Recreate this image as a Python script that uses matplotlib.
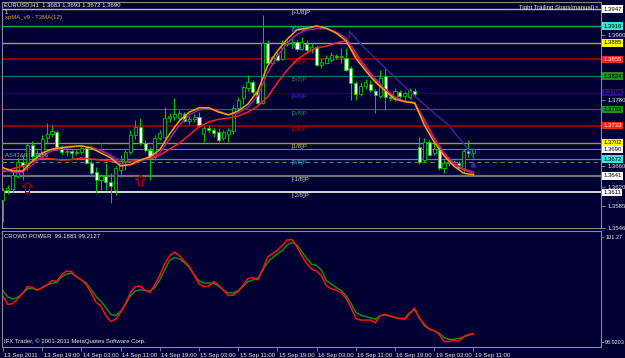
import numpy as np
import matplotlib
matplotlib.use("Agg")
from matplotlib import pyplot as plt
from matplotlib.path import Path
import matplotlib.transforms as mtransforms

plt.rcParams["font.family"] = ["Liberation Sans", "DejaVu Sans"]

# EURUSD H1 bars, 13 Sep 2011 11:00 .. 19 Sep 2011 11:00
opens = [1.3597, 1.3615, 1.3617, 1.3641, 1.3667, 1.3661, 1.3698, 1.3678, 1.3683, 1.3711,
         1.3718, 1.3722, 1.3694, 1.3685, 1.3687, 1.3683, 1.3685, 1.3692, 1.3665, 1.3648,
         1.3634, 1.3641, 1.3630, 1.3615, 1.3652, 1.3667, 1.3685, 1.3716, 1.3731, 1.3701,
         1.3689, 1.3676, 1.3711, 1.3712, 1.3747, 1.3749, 1.3747, 1.3755, 1.3742, 1.3745,
         1.3749, 1.3718, 1.3729, 1.3725, 1.3722, 1.3711, 1.3718, 1.3723, 1.3766, 1.3784,
         1.3802, 1.3813, 1.3795, 1.3775, 1.3885, 1.3848, 1.3863, 1.3856, 1.3883, 1.3885,
         1.3887, 1.3874, 1.3883, 1.3872, 1.3878, 1.3845, 1.3848, 1.3854, 1.3861, 1.3859,
         1.3857, 1.3839, 1.3812, 1.3791, 1.3806, 1.3810, 1.3797, 1.3788, 1.3824, 1.3786,
         1.3782, 1.3795, 1.3788, 1.3786, 1.3797, 1.3694, 1.3670, 1.3703, 1.3683, 1.3689,
         1.3656, 1.3665, 1.3667, 1.3665, 1.3656, 1.3687, 1.3683]
highs = [1.3619, 1.3624, 1.3648, 1.3674, 1.3679, 1.3703, 1.3705, 1.3689, 1.3716, 1.3738,
         1.3734, 1.3725, 1.3698, 1.3692, 1.3690, 1.3689, 1.3696, 1.3696, 1.3670, 1.3657,
         1.3645, 1.3665, 1.3646, 1.3659, 1.3679, 1.3689, 1.3725, 1.3744, 1.3747, 1.3707,
         1.3694, 1.3716, 1.3725, 1.3767, 1.3756, 1.3784, 1.3762, 1.3758, 1.3751, 1.3755,
         1.3758, 1.3733, 1.3733, 1.3729, 1.3729, 1.3725, 1.3729, 1.3771, 1.3786, 1.3808,
         1.3826, 1.3817, 1.3800, 1.3936, 1.3890, 1.3861, 1.3868, 1.3890, 1.3890, 1.3894,
         1.3890, 1.3896, 1.3890, 1.3885, 1.3881, 1.3857, 1.3863, 1.3868, 1.3865, 1.3876,
         1.3876, 1.3843, 1.3815, 1.3813, 1.3819, 1.3817, 1.3800, 1.3835, 1.3841, 1.3793,
         1.3802, 1.3799, 1.3797, 1.3802, 1.3802, 1.3712, 1.3711, 1.3707, 1.3701, 1.3692,
         1.3670, 1.3670, 1.3670, 1.3668, 1.3690, 1.3707, 1.3693]
lows = [1.3556, 1.3608, 1.3611, 1.3637, 1.3634, 1.3652, 1.3670, 1.3670, 1.3679, 1.3701,
        1.3712, 1.3690, 1.3679, 1.3678, 1.3674, 1.3679, 1.3681, 1.3663, 1.3645, 1.3610,
        1.3615, 1.3615, 1.3591, 1.3606, 1.3639, 1.3652, 1.3681, 1.3709, 1.3698, 1.3685,
        1.3634, 1.3670, 1.3707, 1.3709, 1.3740, 1.3744, 1.3744, 1.3740, 1.3736, 1.3740,
        1.3731, 1.3703, 1.3720, 1.3712, 1.3703, 1.3707, 1.3703, 1.3718, 1.3762, 1.3773,
        1.3797, 1.3791, 1.3771, 1.3773, 1.3846, 1.3845, 1.3852, 1.3854, 1.3879, 1.3878,
        1.3870, 1.3872, 1.3868, 1.3867, 1.3843, 1.3839, 1.3846, 1.3850, 1.3856, 1.3848,
        1.3834, 1.3780, 1.3780, 1.3788, 1.3800, 1.3795, 1.3756, 1.3784, 1.3762, 1.3778,
        1.3778, 1.3782, 1.3778, 1.3782, 1.3788, 1.3663, 1.3667, 1.3678, 1.3679, 1.3652,
        1.3646, 1.3659, 1.3661, 1.3654, 1.3648, 1.3676, 1.3672]
closes = [1.3615, 1.3619, 1.3643, 1.3667, 1.3659, 1.3698, 1.3678, 1.3683, 1.3709, 1.3718,
          1.3723, 1.3694, 1.3685, 1.3687, 1.3683, 1.3685, 1.3692, 1.3665, 1.3646, 1.3634,
          1.3641, 1.3630, 1.3623, 1.3656, 1.3670, 1.3685, 1.3716, 1.3731, 1.3701, 1.3689,
          1.3674, 1.3711, 1.3720, 1.3747, 1.3751, 1.3755, 1.3756, 1.3742, 1.3745, 1.3749,
          1.3734, 1.3729, 1.3725, 1.3720, 1.3707, 1.3722, 1.3725, 1.3766, 1.3780, 1.3804,
          1.3813, 1.3795, 1.3775, 1.3885, 1.3848, 1.3859, 1.3854, 1.3883, 1.3885, 1.3887,
          1.3874, 1.3887, 1.3872, 1.3878, 1.3845, 1.3850, 1.3857, 1.3863, 1.3859, 1.3861,
          1.3835, 1.3812, 1.3791, 1.3806, 1.3813, 1.3799, 1.3789, 1.3821, 1.3786, 1.3784,
          1.3797, 1.3788, 1.3793, 1.3799, 1.3791, 1.3667, 1.3703, 1.3679, 1.3690, 1.3656,
          1.3665, 1.3667, 1.3665, 1.3656, 1.3687, 1.3683, 1.3690]

# moving averages, read every second bar
ma_bars = list(range(0, 97, 2))
ma_orange = [1.3656, 1.3650, 1.3650, 1.3668, 1.3683, 1.3690, 1.3693, 1.3695, 1.3696, 1.3692,
             1.3683, 1.3674, 1.3659, 1.3662, 1.3670, 1.3676, 1.3689, 1.3718, 1.3742, 1.3758,
             1.3766, 1.3766, 1.3758, 1.3753, 1.3760, 1.3773, 1.3797, 1.3843, 1.3870, 1.3892,
             1.3909, 1.3912, 1.3916, 1.3912, 1.3903, 1.3889, 1.3857, 1.3834, 1.3813, 1.3797,
             1.3782, 1.3777, 1.3775, 1.3734, 1.3703, 1.3678, 1.3659, 1.3646, 1.3643]
ma_purple = [1.3652, 1.3648, 1.3648, 1.3661, 1.3678, 1.3687, 1.3690, 1.3694, 1.3696, 1.3694,
             1.3687, 1.3678, 1.3663, 1.3661, 1.3668, 1.3674, 1.3683, 1.3709, 1.3734, 1.3753,
             1.3762, 1.3766, 1.3760, 1.3753, 1.3756, 1.3767, 1.3788, 1.3830, 1.3861, 1.3885,
             1.3901, 1.3909, 1.3911, 1.3911, 1.3905, 1.3894, 1.3867, 1.3841, 1.3819, 1.3800,
             1.3786, 1.3778, 1.3775, 1.3744, 1.3711, 1.3683, 1.3665, 1.3654, 1.3648]
ma_red = [1.3648, 1.3654, 1.3659, 1.3667, 1.3674, 1.3672, 1.3670, 1.3671, 1.3674, 1.3672,
          1.3670, 1.3668, 1.3667, 1.3668, 1.3670, 1.3674, 1.3679, 1.3690, 1.3701, 1.3716,
          1.3731, 1.3740, 1.3745, 1.3747, 1.3751, 1.3758, 1.3769, 1.3786, 1.3812, 1.3835,
          1.3854, 1.3867, 1.3876, 1.3879, 1.3885, 1.3889, 1.3863, 1.3839, 1.3817, 1.3799,
          1.3784, 1.3778, 1.3775, 1.3742, 1.3709, 1.3681, 1.3663, 1.3652, 1.3646]

# tight trailing stop lines
trail_bars = [71, 74, 78, 81, 84, 88, 91, 93, 95, 96]
trail_vals = [1.3903, 1.3874, 1.3839, 1.3813, 1.3788, 1.3756, 1.3734, 1.3711, 1.3689, 1.3674]
trail2_bars = [18, 21, 24]
trail2_vals = [1.3692, 1.3684, 1.3670]
arrow_bars = [5, 28]
arrow_vals = [1.3621, 1.3634]

# murrey math levels
mm_levels = [1.3947, 1.3916, 1.3885, 1.3855, 1.3824, 1.3794, 1.3763, 1.3733, 1.3702, 1.3672, 1.3641, 1.3611]
mm_names = ["[+1/8]P", "[8/8]P", "[7/8]P", "[6/8]P", "[5/8]P", "[4/8]P", "[3/8]P",
            "[2/8]P", "[1/8]P", "[0/8]P", "[-1/8]P", "[-2/8]P"]
mm_line_c = ["#B8B8B8", "#00B060", "#A8A840", "#900000", "#007860", "#200070", "#007060",
             "#900000", "#A0A000", "#00A8C8", "#707070", "#D8D8D8"]
mm_text_c = ["#D0D0D0", "#30A0A0", "#B8B860", "#C00000", "#208060", "#4030C0", "#308070",
             "#C00000", "#C0C040", "#20A0C0", "#C8C8C8", "#C8C8C8"]
mm_box_c = ["#FFFFFF", "#40E0D0", "#FFFF00", "#FF2020", "#228B22", "#2A1080", "#228B22",
            "#FF2020", "#FFFF00", "#40E0E0", "#FFFFFF", "#FFFFFF"]
mm_lw = [1.0, 1.0, 1.0, 1.4, 0.9, 0.9, 0.9, 1.4, 1.0, 0.9, 1.6, 1.4]
bid = 1.3690
stop_line = 1.3667

# scale labels; the hidden ones sit under the level boxes
price_ticks = [1.3900, 1.3780, 1.3660, 1.3620, 1.3585, 1.3546]
hidden_ticks = [1.3860, 1.3820, 1.3740, 1.3700]

# crowd power oscillator
cp_red = [99.94, 99.76, 99.78, 99.88, 100.01, 100.16, 100.14, 100.08, 100.13, 100.20,
          100.29, 100.28, 100.43, 100.51, 100.49, 100.38, 100.31, 100.20, 100.02, 99.81,
          99.72, 99.51, 99.38, 99.43, 99.58, 99.78, 100.02, 100.16, 100.17, 100.08,
          100.03, 100.20, 100.41, 100.67, 100.85, 100.93, 100.85, 100.73, 100.61, 100.42,
          100.22, 100.16, 100.17, 100.27, 100.19, 100.08, 99.96, 99.97, 100.06, 100.19,
          100.34, 100.36, 100.31, 100.55, 100.82, 100.90, 100.97, 101.08, 101.20, 101.21,
          101.05, 100.85, 100.67, 100.55, 100.51, 100.40, 100.18, 100.11, 100.08, 100.02,
          99.90, 99.70, 99.45, 99.41, 99.41, 99.41, 99.35, 99.51, 99.54, 99.50,
          99.47, 99.44, 99.43, 99.55, 99.68, 99.44, 99.32, 99.20, 99.17, 99.09,
          98.93, 98.93, 98.96, 98.94, 99.04, 99.09, 99.11]
cp_green = [100.06, 99.93, 99.88, 99.92, 100.00, 100.11, 100.12, 100.08, 100.14, 100.20,
            100.23, 100.26, 100.38, 100.44, 100.46, 100.38, 100.31, 100.24, 100.09, 99.94,
            99.83, 99.69, 99.54, 99.51, 99.61, 99.76, 99.95, 100.06, 100.09, 100.07,
            100.06, 100.14, 100.31, 100.53, 100.75, 100.81, 100.78, 100.70, 100.59, 100.43,
            100.29, 100.24, 100.24, 100.23, 100.17, 100.08, 100.02, 100.02, 100.07, 100.16,
            100.27, 100.31, 100.35, 100.52, 100.70, 100.81, 100.89, 100.97, 101.09, 101.15,
            101.09, 100.94, 100.79, 100.66, 100.63, 100.53, 100.29, 100.22, 100.14, 100.08,
            99.95, 99.79, 99.58, 99.52, 99.49, 99.46, 99.43, 99.51, 99.52, 99.50,
            99.47, 99.45, 99.45, 99.58, 99.64, 99.47, 99.28, 99.22, 99.17, 99.12,
            99.02, 98.98, 98.98, 99.00, 99.03, 99.07, 99.10]

time_bars = [0, 8, 16, 24, 32, 40, 48, 56, 64, 72, 80, 88, 96]
time_labels = ["13 Sep 2011", "13 Sep 19:00", "14 Sep 03:00", "14 Sep 11:00", "14 Sep 19:00",
               "15 Sep 03:00", "15 Sep 11:00", "15 Sep 19:00", "16 Sep 03:00", "16 Sep 11:00",
               "16 Sep 19:00", "19 Sep 03:00", "19 Sep 11:00"]

bg = "#000032"
frame = "#8C8C8C"
candle_c = "#00C800"
fs = 4.3
W, H = 625, 358

fig = plt.figure(figsize=(W / 100, H / 100), dpi=100, facecolor=bg)
ax = fig.add_axes([2 / W, 1 - 228 / H, 599 / W, 226 / H], facecolor=bg)
ax2 = fig.add_axes([2 / W, 1 - 347 / H, 599 / W, 116 / H], facecolor=bg)

for a in (ax, ax2):
    a.set_xlim(-0.2, 122.04)
    for s in a.spines.values():
        s.set_color(frame)
        s.set_linewidth(0.8)
ax.set_ylim(1.35454, 1.39601)
ax2.set_ylim(98.808, 101.404)

# murrey lines + labels
for lvl, name, lc, tc, lw in zip(mm_levels, mm_names, mm_line_c, mm_text_c, mm_lw):
    ax.axhline(lvl, color=lc, lw=lw, zorder=1)
    ax.text(59, lvl - 0.00022, name, color=tc, fontsize=fs, va="top", ha="left", zorder=2)
ax.axhline(bid, color="#7C7C7C", lw=0.8, zorder=1)
ax.axhline(stop_line, color="#5A7A5A", lw=0.8, ls=(0, (4, 3)), zorder=1)

# candles
x = np.arange(len(opens))
o = np.array(opens)
c = np.array(closes)
ax.vlines(x, lows, highs, color=candle_c, lw=0.75, zorder=3)
body_lo = np.minimum(o, c)
body_h = np.maximum(np.abs(c - o), 0.00004)
fills = np.where(c < o, "#FFFFFF", bg)
ax.bar(x, body_h, bottom=body_lo, width=0.62, color=fills, edgecolor=candle_c,
       linewidth=0.6, zorder=4)

# indicator lines
ax.plot(ma_bars, ma_red, color="#FF2020", lw=1.1, zorder=5)
ax.plot(ma_bars, ma_purple, color="#A020A0", lw=1.1, zorder=6)
ax.plot(ma_bars, ma_orange, color="#FFA000", lw=1.1, zorder=7)
ax.plot(trail_bars, trail_vals, color="#3C2896", lw=1.0, zorder=5)
ax.plot(trail2_bars, trail2_vals, color="#3C2896", lw=1.0, zorder=5)
ax.vlines([70.6, 20.0], [1.3894, 1.3690], [1.3908, 1.3702], color="#3C2896", lw=0.9, zorder=5)
ax.plot([trail_bars[-1]], [1.3663], marker="^", ms=3.5, color="#3C2896", zorder=6)

arrow = Path([(0, 1), (-1, 0.15), (-0.4, 0.15), (-0.4, -1), (0.4, -1), (0.4, 0.15),
              (1, 0.15), (0, 1)], [Path.MOVETO] + [Path.LINETO] * 6 + [Path.CLOSEPOLY])
ax.plot(arrow_bars, arrow_vals, ls="none", marker=arrow, ms=7.5, mfc="none",
        mec="#B00000", mew=0.8, zorder=6)

# price scale
ax.yaxis.tick_right()
ax.set_yticks(price_ticks)
ax.set_yticklabels(["%.4f" % v for v in price_ticks])
ax.set_yticks(hidden_ticks, minor=True)
ax.tick_params(axis="y", which="both", colors=frame, labelcolor="#E8E8E8", labelsize=fs,
               length=3, width=0.6, pad=1.5)
ax.set_xticks([])
tr = mtransforms.blended_transform_factory(ax.transAxes, ax.transData)
for lvl, bc in zip(mm_levels, mm_box_c):
    tc = "#FFFFFF" if bc == "#FF2020" else "#000000"
    ax.text(1.004, lvl, "%.4f" % lvl, transform=tr, fontsize=fs, color=tc, va="center",
            ha="left", bbox=dict(boxstyle="square,pad=0.2", fc=bc, ec="none"),
            clip_on=False, zorder=10)
ax.text(1.004, bid, "%.4f" % bid, transform=tr, fontsize=fs, color="#000000", va="center",
        ha="left", bbox=dict(boxstyle="square,pad=0.2", fc="#FFFFFF", ec="none"),
        clip_on=False, zorder=10)

# crowd power panel
ax2.plot(x, cp_green, color="#108C10", lw=1.1)
ax2.plot(x, cp_red, color="#FF1010", lw=1.1)
ax2.yaxis.tick_right()
ax2.set_yticks([98.9203, 101.27])
ax2.set_yticklabels(["98.9203", "101.27"])
ax2.tick_params(axis="y", colors=frame, labelcolor="#E8E8E8", labelsize=4.0, length=2,
                width=0.6, pad=1.0)
ax2.set_xticks(time_bars)
ax2.set_xticklabels(time_labels, ha="left")
ax2.tick_params(axis="x", colors=frame, labelcolor="#E8E8E8", labelsize=fs, length=3,
                width=0.6, pad=1.5)
shift = mtransforms.ScaledTranslation(1.5 / 100, 0, fig.dpi_scale_trans)
for lab in ax2.get_xticklabels():
    lab.set_transform(lab.get_transform() + shift)

# header texts
def fx(px):
    return px / W

def fy(py):
    return 1 - py / H

txt = dict(fontsize=fs, va="center", ha="left", color="#E8E8E8")
fig.text(fx(4), fy(5), "EURUSD,H1  1.3683 1.3693 1.3672 1.3690", **txt)
fig.text(fx(5), fy(12), "1", **txt)
fig.text(fx(5), fy(18), "xpMA_v9 - T3MA(12)", fontsize=fs, va="center", color="#E0A020")
fig.text(fx(519), fy(7), "Tight Trailing Stops(manual)", **txt)
fig.text(fx(595), fy(7), "\u00d7", **txt)
fig.text(fx(5), fy(155), "AS43&R 1.3666", fontsize=fs, va="center", color="#A0A0A0")
fig.text(fx(4), fy(237), "CROWD POWER  99.1883 99.2127", **txt)
fig.text(fx(4), fy(341), "IFX Trader, \u00a9 2001-2011 MetaQuotes Software Corp.", **txt)

fig.savefig("out.png", dpi=100, facecolor=bg)
